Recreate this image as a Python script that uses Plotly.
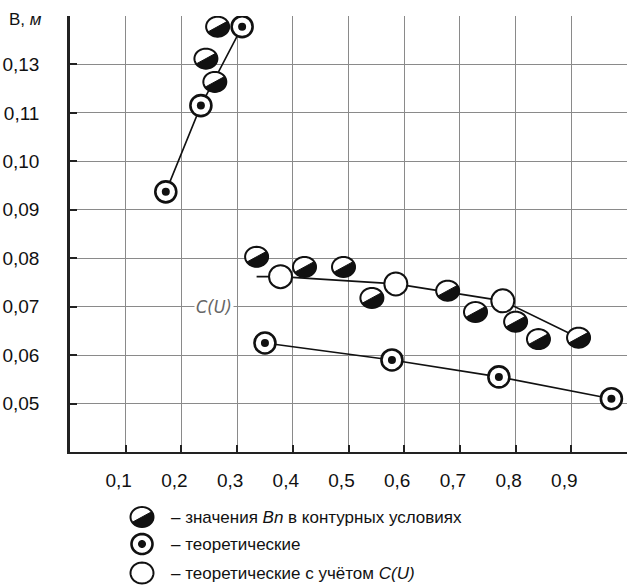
import math
import plotly.graph_objects as go

# --- data (B in metres, plotted on the chart's own vertical scale) ---
bn_x = [0.265, 0.244, 0.260, 0.335, 0.421, 0.491, 0.542, 0.678, 0.728, 0.800, 0.841, 0.913]
bn_y = [0.1278, 0.1212, 0.1164, 0.0803, 0.0782, 0.0782, 0.0718, 0.0733, 0.0689, 0.0669, 0.0633, 0.0636]

theor_up_x = [0.172, 0.235, 0.309]
theor_up_y = [0.0937, 0.1115, 0.1278]

theor_low_x = [0.350, 0.578, 0.770, 0.972]
theor_low_y = [0.0625, 0.0590, 0.0555, 0.0510]

cu_x = [0.378, 0.585, 0.777]
cu_y = [0.0762, 0.0747, 0.0712]
cu_line_x = [0.335, 0.378, 0.585, 0.777, 0.913]
cu_line_y = [0.0762, 0.0762, 0.0747, 0.0712, 0.0636]

x_ticks = [0.1, 0.2, 0.3, 0.4, 0.5, 0.6, 0.7, 0.8, 0.9, 1.0]
x_labels = ["0,1", "0,2", "0,3", "0,4", "0,5", "0,6", "0,7", "0,8", "0,9", ""]
y_ticks = [0.05, 0.06, 0.07, 0.08, 0.09, 0.10, 0.11, 0.12]
y_labels = ["0,05", "0,06", "0,07", "0,08", "0,09", "0,10", "0,11", "0,13"]

legend_texts = [
    "– значения <i>Bn</i> в контурных условиях",
    "– теоретические",
    "– теоретические с учётом <i>C(U)</i>",
]

FONT = "Liberation Sans Narrow, Arial Narrow, Liberation Sans, Arial, sans-serif"
INK = "#111111"


def half_disc_path(cx, cy, rx, ry, tilt_deg=32, n=28):
    """Lower-right half of an ellipse (pixel offsets, y up), split along a tilted diameter."""
    pts = []
    for i in range(n + 1):
        t = math.radians(tilt_deg - 180 + 180 * i / n)
        pts.append((cx + rx * math.cos(t), cy + ry * math.sin(t)))
    return "M " + " L ".join(f"{px:.2f},{py:.2f}" for px, py in pts) + " Z"


def ellipse_path(cx, cy, rx, ry, n=40):
    pts = []
    for i in range(n):
        t = 2 * math.pi * i / n
        pts.append((cx + rx * math.cos(t), cy + ry * math.sin(t)))
    return "M " + " L ".join(f"{px:.2f},{py:.2f}" for px, py in pts) + " Z"


fig = go.Figure()

# connecting lines
fig.add_trace(go.Scatter(x=theor_up_x, y=theor_up_y, mode="lines",
                         line=dict(color=INK, width=1.6), showlegend=False, hoverinfo="skip"))
fig.add_trace(go.Scatter(x=theor_low_x, y=theor_low_y, mode="lines",
                         line=dict(color=INK, width=1.6), showlegend=False, hoverinfo="skip"))
fig.add_trace(go.Scatter(x=cu_line_x, y=cu_line_y, mode="lines",
                         line=dict(color=INK, width=1.6), showlegend=False, hoverinfo="skip"))

# theoretical points: ringed circle with a black centre dot
for xs, ys in ((theor_up_x, theor_up_y), (theor_low_x, theor_low_y)):
    fig.add_trace(go.Scatter(x=xs, y=ys, mode="markers", showlegend=False,
                             marker=dict(symbol="circle", size=21, color="white",
                                         line=dict(color=INK, width=2.6))))
    fig.add_trace(go.Scatter(x=xs, y=ys, mode="markers", showlegend=False, hoverinfo="skip",
                             marker=dict(symbol="circle", size=8, color=INK, line=dict(width=0))))

# theoretical with C(U): open circles
fig.add_trace(go.Scatter(x=cu_x, y=cu_y, mode="markers", showlegend=False,
                         marker=dict(symbol="circle", size=23, color="white",
                                     line=dict(color=INK, width=2))))

# Bn values: positions carried by the trace, the split-disc glyph drawn as shapes below
fig.add_trace(go.Scatter(x=bn_x, y=bn_y, mode="markers", showlegend=False,
                         marker=dict(symbol="circle", size=0.1, color="rgba(0,0,0,0)")))

shapes = []
for xv, yv in zip(bn_x, bn_y):
    common = dict(type="path", xref="x", yref="y", xsizemode="pixel", ysizemode="pixel",
                  xanchor=xv, yanchor=yv, layer="above")
    shapes.append(dict(common, path=ellipse_path(0, 0, 11.5, 10), fillcolor="white",
                       line=dict(color=INK, width=2)))
    shapes.append(dict(common, path=half_disc_path(0, 0, 11.5, 10), fillcolor=INK,
                       line=dict(color=INK, width=1)))

# legend symbols (pixel offsets from the lower-left corner of the plot area)
leg_x = 72
leg_rows = [-65, -92, -121]
lg = dict(type="path", xref="paper", yref="paper", xsizemode="pixel", ysizemode="pixel",
          xanchor=0, yanchor=0, layer="above")
shapes.append(dict(lg, path=ellipse_path(leg_x, leg_rows[0], 11.5, 10), fillcolor="white",
                   line=dict(color=INK, width=2)))
shapes.append(dict(lg, path=half_disc_path(leg_x, leg_rows[0], 11.5, 10), fillcolor=INK,
                   line=dict(color=INK, width=1)))
shapes.append(dict(lg, path=ellipse_path(leg_x, leg_rows[1], 10.5, 10), fillcolor="white",
                   line=dict(color=INK, width=2.6)))
shapes.append(dict(lg, path=ellipse_path(leg_x, leg_rows[1], 4, 4), fillcolor=INK,
                   line=dict(color=INK, width=0)))
shapes.append(dict(lg, path=ellipse_path(leg_x, leg_rows[2], 11.5, 10.5), fillcolor="white",
                   line=dict(color=INK, width=2)))

annotations = []
for row, txt in zip(leg_rows, legend_texts):
    annotations.append(dict(xref="paper", yref="paper", x=0, y=0, xshift=99, yshift=row,
                            xanchor="left", yanchor="middle", text=txt, showarrow=False,
                            font=dict(family=FONT, size=17, color=INK)))

annotations.append(dict(xref="paper", yref="paper", x=0, y=1, xshift=-63, yshift=-3,
                        xanchor="left", yanchor="middle", text="В, <i>м</i>", showarrow=False,
                        font=dict(family=FONT, size=17, color=INK)))

annotations.append(dict(xref="x", yref="y", x=0.258, y=0.07, text="<i>C(U)</i>",
                        showarrow=False, bgcolor="white", borderpad=1,
                        font=dict(family="DejaVu Sans Condensed, DejaVu Sans", size=18,
                                  color="#666666")))

fig.update_layout(
    width=627, height=587,
    margin=dict(l=70, r=0, t=16, b=135),
    paper_bgcolor="white", plot_bgcolor="white",
    shapes=shapes, annotations=annotations,
    showlegend=False,
    font=dict(family=FONT, size=19, color=INK),
)

fig.update_xaxes(
    range=[0, 1.0], tickmode="array", tickvals=x_ticks, ticktext=x_labels,
    showgrid=True, gridcolor="#8a8a8a", gridwidth=1,
    showline=True, linecolor="#222222", linewidth=2,
    ticks="inside", ticklen=7, tickwidth=2, tickcolor="#222222",
    ticklabelstandoff=10, ticklabelshift=-7, zeroline=False,
    tickfont=dict(family=FONT, size=19, color=INK),
)
fig.update_yaxes(
    range=[0.04, 0.13], tickmode="array", tickvals=y_ticks, ticktext=y_labels,
    showgrid=True, gridcolor="#8a8a8a", gridwidth=1,
    showline=True, linecolor="#222222", linewidth=2.5,
    ticks="inside", ticklen=7, tickwidth=2, tickcolor="#222222",
    ticklabelstandoff=24, zeroline=False,
    tickfont=dict(family=FONT, size=19, color=INK),
)

fig.write_html("out.html")
